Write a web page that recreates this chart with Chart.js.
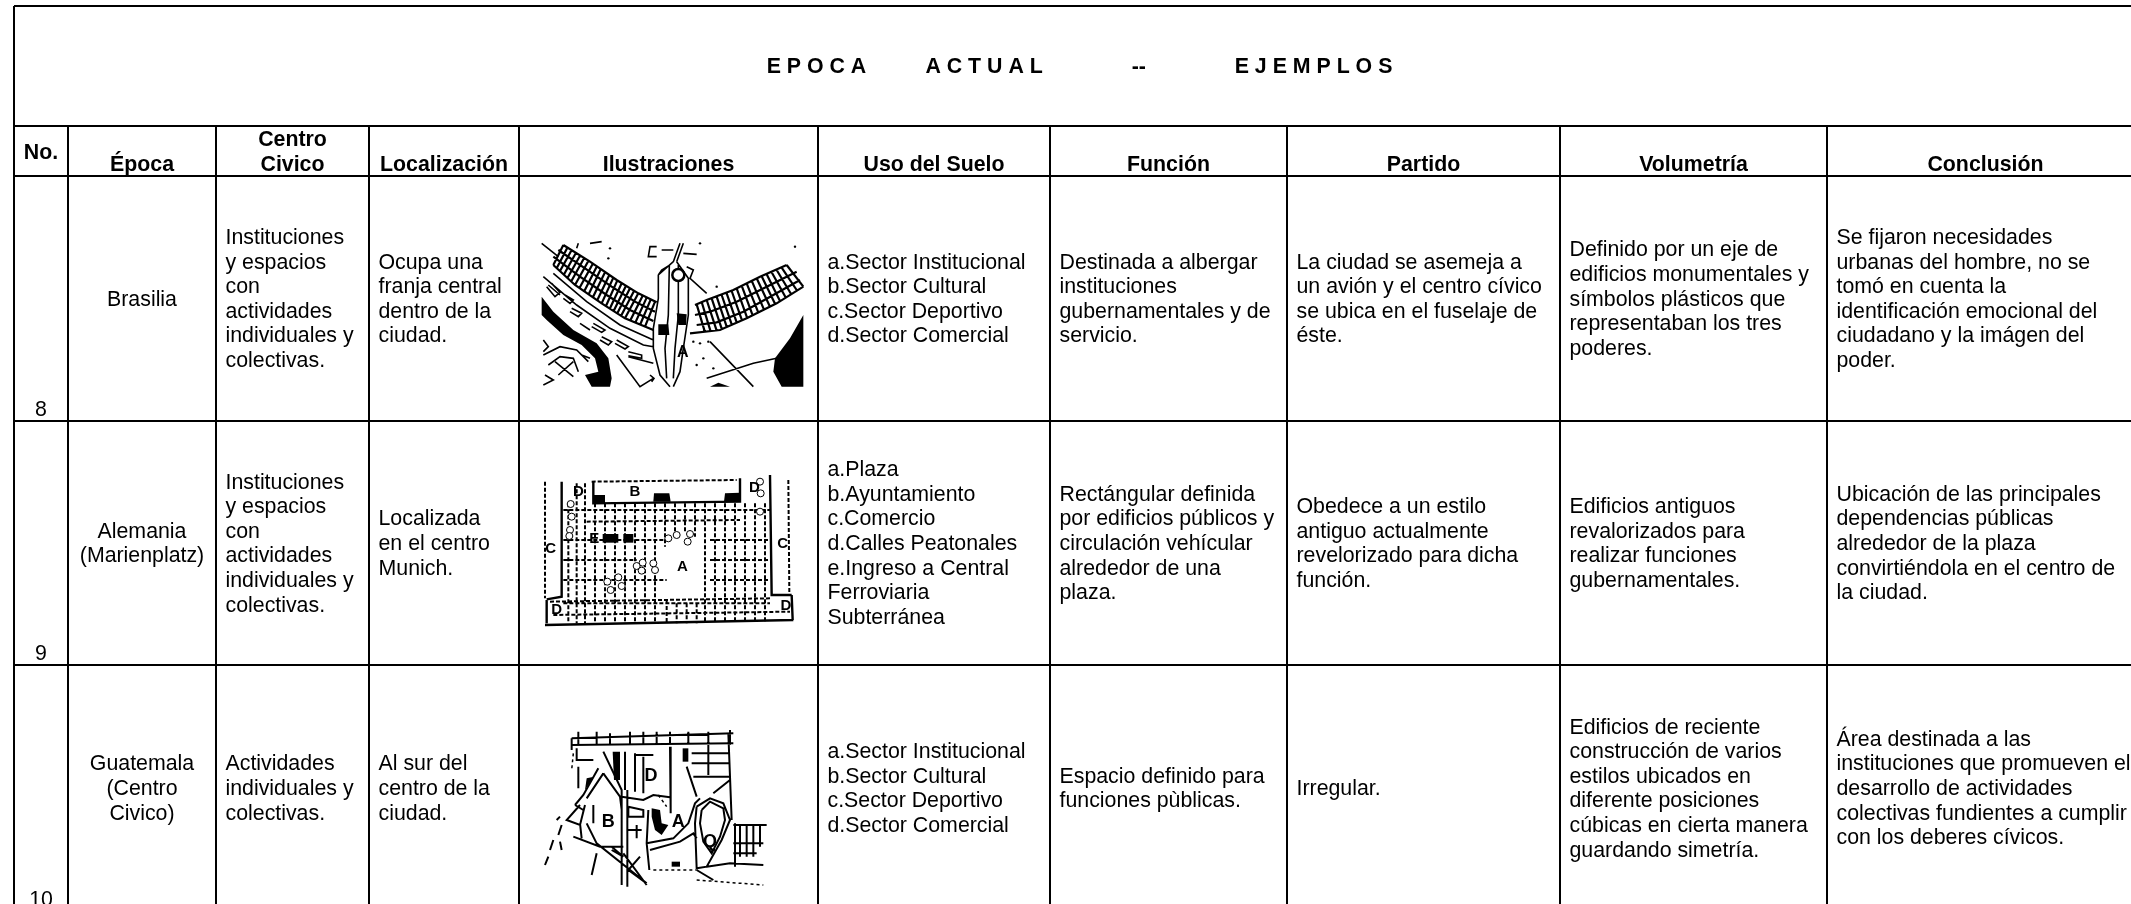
<!DOCTYPE html>
<html>
<head>
<meta charset="utf-8">
<title>Epoca actual - ejemplos</title>
<style>
  html, body { margin: 0; padding: 0; background: #fff; overflow: hidden; }
  canvas { display: block; }
</style>
<script src="https://cdn.jsdelivr.net/npm/chart.js@4/dist/chart.umd.min.js"></script>
</head>
<body>
<canvas id="chart" width="2131" height="904"></canvas>
<script>
const titleText = 'E P O C A' + ' '.repeat(10) + 'A C T U A L' + ' '.repeat(15) + '--' + ' '.repeat(15) + 'E J E M P L O S';

const columnEdges = [14, 68, 216, 369, 519, 818, 1050, 1287, 1560, 1827, 2144];
const rowEdges = [6, 126, 176, 421, 665, 911];

const headers = [['No.'], ['Época'], ['Centro', 'Civico'], ['Localización'], ['Ilustraciones'],
  ['Uso del Suelo'], ['Función'], ['Partido'], ['Volumetría'], ['Conclusión']];

const numbers = ['8', '9', '10'];
const epocas = [['Brasilia'], ['Alemania', '(Marienplatz)'], ['Guatemala', '(Centro', 'Civico)']];
const centros = [
  ['Instituciones', 'y espacios', 'con', 'actividades', 'individuales y', 'colectivas.'],
  ['Instituciones', 'y espacios', 'con', 'actividades', 'individuales y', 'colectivas.'],
  ['Actividades', 'individuales y', 'colectivas.']
];
const localizaciones = [
  ['Ocupa una', 'franja central', 'dentro de la', 'ciudad.'],
  ['Localizada', 'en el centro', 'Munich.'],
  ['Al sur del', 'centro de la', 'ciudad.']
];
const usos = [
  ['a.Sector Institucional', 'b.Sector Cultural', 'c.Sector Deportivo', 'd.Sector Comercial'],
  ['a.Plaza', 'b.Ayuntamiento', 'c.Comercio', 'd.Calles Peatonales', 'e.Ingreso a Central', 'Ferroviaria', 'Subterránea'],
  ['a.Sector Institucional', 'b.Sector Cultural', 'c.Sector Deportivo', 'd.Sector Comercial']
];
const funciones = [
  ['Destinada a albergar', 'instituciones', 'gubernamentales y de', 'servicio.'],
  ['Rectángular definida', 'por edificios públicos y', 'circulación vehícular', 'alrededor de una', 'plaza.'],
  ['Espacio definido para', 'funciones pùblicas.']
];
const partidos = [
  ['La ciudad se asemeja a', 'un avión y el centro cívico', 'se ubica en el fuselaje de', 'éste.'],
  ['Obedece a un estilo', 'antiguo actualmente', 'revelorizado para dicha', 'función.'],
  ['Irregular.']
];
const volumetrias = [
  ['Definido por un eje de', 'edificios monumentales y', 'símbolos plásticos que', 'representaban los tres', 'poderes.'],
  ['Edificios antiguos', 'revalorizados para', 'realizar funciones', 'gubernamentales.'],
  ['Edificios de reciente', 'construcción de varios', 'estilos ubicados en', 'diferente posiciones', 'cúbicas en cierta manera', 'guardando simetría.']
];
const conclusiones = [
  ['Se fijaron necesidades', 'urbanas del hombre, no se', 'tomó en cuenta la', 'identificación emocional del', 'ciudadano y la imágen del', 'poder.'],
  ['Ubicación de las principales', 'dependencias públicas', 'alrededor de la plaza', 'convirtiéndola en el centro de', 'la ciudad.'],
  ['Área destinada a las', 'instituciones que promueven el', 'desarrollo de actividades', 'colectivas fundientes a cumplir', 'con los deberes cívicos.']
];

// sketches: flat x,y lists, in crop units (1/3 px) from each illustration's own origin
const brasiliaOrigin = [510, 215];
const brasiliaLattice = [
  [160,90, 240,140, 320,195, 385,235, 440,262], [145,105, 225,160, 305,215, 375,260, 435,290],
  [130,125, 210,185, 290,240, 360,285, 430,318], [130,150, 195,210, 275,265, 345,310, 430,345],
  [160,90, 130,150], [172,98, 140,160], [185,105, 150,168], [198,113, 161,180], [210,122, 172,190], [222,130, 183,200],
  [235,138, 195,210], [248,147, 208,220], [260,155, 222,230], [272,163, 235,240], [285,172, 248,248], [298,180, 261,257],
  [310,188, 275,265], [322,196, 288,273], [335,205, 300,280], [348,212, 311,288], [360,220, 322,295], [372,228, 333,303],
  [385,235, 345,310], [398,242, 360,318], [410,248, 375,325], [422,254, 390,330], [435,260, 405,335],
  [830,150, 750,185, 670,225, 590,255, 555,270], [860,170, 770,215, 680,260, 600,290, 555,300],
  [870,195, 790,240, 700,290, 620,322, 560,330], [880,215, 800,265, 710,310, 630,345, 540,355],
  [830,150, 880,215], [815,158, 862,228], [800,165, 845,240], [785,172, 828,249], [770,178, 810,258], [755,184, 795,266],
  [740,190, 780,275], [725,197, 762,284], [710,205, 745,293], [695,212, 728,301], [680,220, 712,310], [665,228, 696,316],
  [650,235, 680,322], [635,240, 665,328], [620,245, 650,335], [605,250, 635,341], [590,255, 620,347], [575,261, 602,350], [560,268, 585,352]
];
const brasiliaLines = [
  [95,85, 145,125], [200,100, 205,85], [240,85, 275,80],
  [490,140, 445,180, 445,250, 430,340, 430,400, 450,480, 480,515], [500,140, 535,190, 535,300, 520,400, 510,470, 490,515],
  [478,150, 475,300, 465,400, 470,490], [505,150, 505,300, 495,400, 490,490],
  [445,180, 455,165, 480,150], [530,155, 550,165, 540,190, 590,235],
  [490,140, 510,85], [500,140, 520,85], [440,95, 420,95, 415,125, 440,125], [455,105, 490,105], [520,115, 560,118],
  [100,185, 200,270, 300,340, 400,390, 430,395], [130,175, 230,260, 330,330, 430,375],
  [115,210, 150,240], [125,205, 150,232, 135,245, 110,215], [165,240, 190,255, 180,265, 160,250],
  [185,280, 215,295, 205,305, 180,290], [210,325, 240,345], [250,325, 285,345, 275,352, 245,335],
  [275,365, 305,380, 295,390, 270,375], [320,375, 355,395, 345,402, 315,385], [355,410, 395,420, 395,430, 355,422],
  [320,420, 390,515, 430,490], [420,480, 432,490, 425,500], [355,425, 430,445],
  [600,380, 730,515], [590,490, 730,445, 800,430],
  [100,420, 150,395, 200,405, 235,440], [115,450, 150,425, 190,430, 205,470], [100,375, 115,395, 100,410],
  [135,440, 190,485], [145,480, 190,440], [105,480, 130,495, 100,510], [240,430, 215,420]
];
const brasiliaBlobs = [
  [95,245, 130,290, 190,345, 260,385, 295,430, 305,490, 300,515, 245,515, 225,480, 265,470, 255,430, 215,390, 160,360, 110,315, 95,300],
  [880,300, 840,370, 795,430, 790,470, 815,515, 880,515],
  [600,515, 625,503, 660,515],
  [445,328, 475,328, 478,360, 445,360],
  [500,295, 530,298, 528,330, 505,330]
];
const brasiliaCircles = [[505,180]];
const brasiliaDots = [[855,95], [570,85], [595,380], [570,385], [550,380], [580,430], [560,450], [610,460], [620,215], [295,130], [300,100]];
const brasiliaLetters = [['A', 518, 412]];

const marienOrigin = [510, 460];
const marienLines = [
  [105,495, 850,480], [155,65, 155,410, 110,418], [780,45, 785,405, 845,405],
  [250,65, 250,130, 690,125, 690,55], [110,420, 110,490], [845,405, 848,480]
];
const marienDashed = [
  [105,65, 105,415], [835,60, 838,400], [245,65, 680,60], [120,425, 780,415],
  [175,130, 175,490], [200,70, 200,490], [225,70, 225,490], [255,130, 255,490], [285,130, 285,490], [315,130, 315,490],
  [345,130, 345,490], [375,130, 375,490], [405,130, 405,490], [435,130, 435,490], [465,130, 465,260],
  [495,130, 495,220], [525,130, 525,215], [555,130, 555,230], [585,130, 585,490], [615,130, 615,490],
  [645,130, 645,490], [675,130, 675,490], [705,130, 705,490], [735,130, 735,490], [765,130, 765,490],
  [470,420, 470,490], [500,430, 500,490], [530,430, 530,490], [560,430, 560,490],
  [160,150, 780,150], [230,185, 690,180], [160,240, 470,240], [600,240, 780,240], [160,300, 380,300], [600,300, 780,300],
  [160,360, 470,360], [600,360, 780,360], [160,430, 780,430], [130,465, 840,455]
];
const marienBlobs = [
  [250,105, 285,105, 285,130, 250,130], [432,100, 478,100, 482,125, 430,125], [645,100, 690,98, 692,125, 642,125],
  [278,222, 325,222, 325,248, 278,248], [340,222, 370,222, 370,248, 340,248]
];
const marienTrees = [
  [182,132], [185,170], [180,210], [178,228], [475,235], [500,225], [540,222], [533,245],
  [380,318], [398,308], [430,310], [395,332], [435,330], [292,365], [325,352], [335,378], [302,390],
  [750,65], [752,100], [750,155]
];
const marienLetters = [['B', 375, 95], ['C', 122, 268], ['C', 818, 252], ['D', 205, 95], ['D', 733, 85],
  ['D', 140, 450], ['D', 828, 438], ['E', 253, 237], ['A', 517, 320]];

const guateOrigin = [540, 710];
const guateLines = [
  [95,85, 580,70], [95,105, 580,100], [115,65, 115,105], [170,65, 170,105], [210,70, 210,105], [270,65, 270,105],
  [310,65, 310,105], [350,65, 350,105], [390,65, 390,105], [445,65, 445,105], [505,65, 505,105], [570,60, 570,105],
  [95,85, 95,120], [110,115, 110,150, 160,150], [115,170, 115,235], [175,175, 130,255, 105,285], [190,190, 140,265],
  [190,125, 245,240, 245,525], [262,240, 262,530], [255,125, 255,240], [285,130, 285,245], [310,140, 310,250],
  [285,135, 340,135], [390,110, 392,310], [440,170, 470,260], [455,130, 570,130], [455,160, 570,160], [460,200, 570,200],
  [505,105, 505,195], [565,70, 575,330], [520,250, 570,210], [190,190, 240,260, 245,300], [140,340, 170,400, 320,520],
  [470,290, 510,265, 550,280, 570,330, 545,390, 500,470, 470,475, 465,340, 470,290],
  [485,300, 510,275, 550,295, 555,330, 540,380, 515,430, 490,395, 480,340, 485,300],
  [320,400, 400,385, 445,340, 465,280, 480,265], [330,420, 420,395, 460,370, 470,385], [250,410, 180,410, 100,380],
  [120,285, 80,330, 120,345, 135,285], [105,285, 130,300], [160,285, 160,340], [120,340, 125,385],
  [325,300, 320,400, 328,480], [245,260, 310,270, 340,255, 390,262], [265,290, 310,300, 310,320, 265,320, 265,290],
  [265,360, 305,360], [290,345, 290,385], [320,525, 250,430], [265,480, 320,520], [300,440, 265,480], [215,410, 250,440, 215,420],
  [500,470, 570,460, 670,465], [580,345, 680,345], [585,340, 585,470], [600,345, 600,440], [620,345, 620,440], [640,345, 640,440],
  [660,345, 660,410], [580,400, 670,400], [580,430, 650,430], [470,480, 520,510], [155,495, 170,430], [60,320, 50,330],
  [65,345, 55,375], [40,390, 30,420], [60,395, 65,420], [25,440, 15,465]
];
const guateDashed = [[470,510, 670,525], [340,480, 470,480], [100,130, 95,180], [355,255, 380,290]];
const guateBlobs = [
  [218,125, 240,125, 240,210, 222,210], [428,115, 445,115, 445,155, 428,155],
  [335,295, 360,300, 365,340, 385,345, 365,375, 345,360, 335,320],
  [140,205, 162,200, 135,240], [395,455, 420,455, 420,470, 395,470]
];
const guateLetters = [['B', 205, 335], ['A', 415, 335], ['D', 333, 198], ['Q', 510, 395]];

const LINE_FONT = '21.33px "Liberation Sans", Arial, sans-serif';
const BOLD_FONT = 'bold 21.33px "Liberation Sans", Arial, sans-serif';
const LINE_HEIGHT = 24.6;
const TEXT_NUDGE = 1.2;

// crop units to axis units
const toPoint = (origin, x, y) => ({ x: origin[0] + x / 3, y: origin[1] + y / 3 });

function polyPoints(origin, lines) {
  const pts = [];
  lines.forEach(line => {
    for (let i = 0; i < line.length; i += 2) pts.push(toPoint(origin, line[i], line[i + 1]));
    pts.push({ x: null, y: null });
  });
  return pts;
}

function lineSet(data, width, dash) {
  return { data, showLine: true, spanGaps: false, borderColor: '#000', borderWidth: width,
    borderDash: dash || [], pointRadius: 0, borderCapStyle: 'butt', tension: 0 };
}

function pointSet(origin, list, radius, fill, border) {
  return { data: list.map(p => toPoint(origin, p[0], p[1])), showLine: false, pointRadius: radius,
    pointBackgroundColor: fill, pointBorderColor: '#000', pointBorderWidth: border };
}

// table rules
const ruleData = [];
rowEdges.slice(0, 5).forEach(y => {
  ruleData.push({ x: columnEdges[0], y }, { x: columnEdges[columnEdges.length - 1], y }, { x: null, y: null });
});
ruleData.push({ x: columnEdges[0], y: rowEdges[0] }, { x: columnEdges[0], y: rowEdges[5] }, { x: null, y: null });
columnEdges.slice(1, -1).forEach(x => {
  ruleData.push({ x, y: rowEdges[1] }, { x, y: rowEdges[5] }, { x: null, y: null });
});

const datasets = [
  lineSet(ruleData, 2),
  pointSet(brasiliaOrigin, brasiliaCircles, 6, '#fff', 2.5),
  lineSet(polyPoints(brasiliaOrigin, brasiliaLattice), 2.2),
  lineSet(polyPoints(brasiliaOrigin, brasiliaLines), 1.6),
  pointSet(brasiliaOrigin, brasiliaDots, 1.2, '#000', 0),
  lineSet(polyPoints(marienOrigin, marienLines), 2.4),
  pointSet(marienOrigin, marienTrees, 3.5, '#fff', 1),
  lineSet(polyPoints(marienOrigin, marienDashed), 2, [4, 2]),
  lineSet(polyPoints(guateOrigin, guateLines), 2),
  lineSet(polyPoints(guateOrigin, guateDashed), 1.5, [3, 3])
];

const tablePlugin = {
  id: 'tablePlugin',
  beforeDatasetsDraw(chart) {
    const ctx = chart.ctx;
    const xs = chart.scales.x, ys = chart.scales.y;
    const blob = (origin, shape) => {
      ctx.beginPath();
      for (let i = 0; i < shape.length; i += 2) {
        const p = toPoint(origin, shape[i], shape[i + 1]);
        ctx.lineTo(xs.getPixelForValue(p.x), ys.getPixelForValue(p.y));
      }
      ctx.closePath();
      ctx.fill();
    };
    ctx.save();
    ctx.fillStyle = '#000';
    brasiliaBlobs.forEach(s => blob(brasiliaOrigin, s));
    marienBlobs.forEach(s => blob(marienOrigin, s));
    guateBlobs.forEach(s => blob(guateOrigin, s));
    ctx.restore();
  },
  afterDatasetsDraw(chart) {
    const ctx = chart.ctx;
    const xs = chart.scales.x, ys = chart.scales.y;
    const yAt = v => ys.getPixelForValue(v) + TEXT_NUDGE;
    ctx.save();
    ctx.fillStyle = '#000';
    ctx.textBaseline = 'middle';

    // title
    ctx.font = BOLD_FONT;
    ctx.textAlign = 'center';
    ctx.fillText(titleText, xs.getPixelForValue(1079.5), yAt(66));

    // header row
    headers.forEach((lines, c) => {
      const cx = xs.getPixelForValue((columnEdges[c] + columnEdges[c + 1]) / 2);
      const bottom = c === 0 ? 152 : 164;
      lines.forEach((t, i) => {
        ctx.fillText(t, cx, yAt(bottom - (lines.length - 1 - i) * LINE_HEIGHT));
      });
    });

    ctx.font = LINE_FONT;
    // numbers sit at the bottom of their row
    numbers.forEach((t, r) => {
      ctx.fillText(t, xs.getPixelForValue((columnEdges[0] + columnEdges[1]) / 2), yAt(rowEdges[r + 3] - 12));
    });

    const block = (lines, x, r, align) => {
      const mid = (rowEdges[r + 2] + rowEdges[r + 3]) / 2;
      ctx.textAlign = align;
      lines.forEach((t, i) => {
        ctx.fillText(t, xs.getPixelForValue(x), yAt(mid + (i - (lines.length - 1) / 2) * LINE_HEIGHT));
      });
    };
    epocas.forEach((l, r) => block(l, (columnEdges[1] + columnEdges[2]) / 2, r, 'center'));
    [[centros, 2], [localizaciones, 3], [usos, 5], [funciones, 6], [partidos, 7], [volumetrias, 8], [conclusiones, 9]]
      .forEach(([col, c]) => col.forEach((l, r) => block(l, columnEdges[c] + 9.5, r, 'left')));

    // letters on the plans
    ctx.textAlign = 'center';
    [[brasiliaOrigin, brasiliaLetters, 16], [marienOrigin, marienLetters, 15], [guateOrigin, guateLetters, 18]].forEach(([o, list, size]) => {
      ctx.font = 'bold ' + size + 'px "Liberation Sans", Arial, sans-serif';
      list.forEach(([t, x, y]) => {
        const p = toPoint(o, x, y);
        ctx.fillText(t, xs.getPixelForValue(p.x), ys.getPixelForValue(p.y));
      });
    });
    ctx.restore();
  }
};

new Chart(document.getElementById('chart'), {
  type: 'scatter',
  data: { datasets },
  plugins: [tablePlugin],
  options: {
    responsive: false,
    animation: false,
    layout: { padding: 0, autoPadding: false },
    plugins: { legend: { display: false }, tooltip: { enabled: false } },
    scales: {
      x: { type: 'linear', min: 0, max: 2131, display: false },
      y: { type: 'linear', min: 0, max: 904, reverse: true, display: false }
    }
  }
});
</script>
</body>
</html>
